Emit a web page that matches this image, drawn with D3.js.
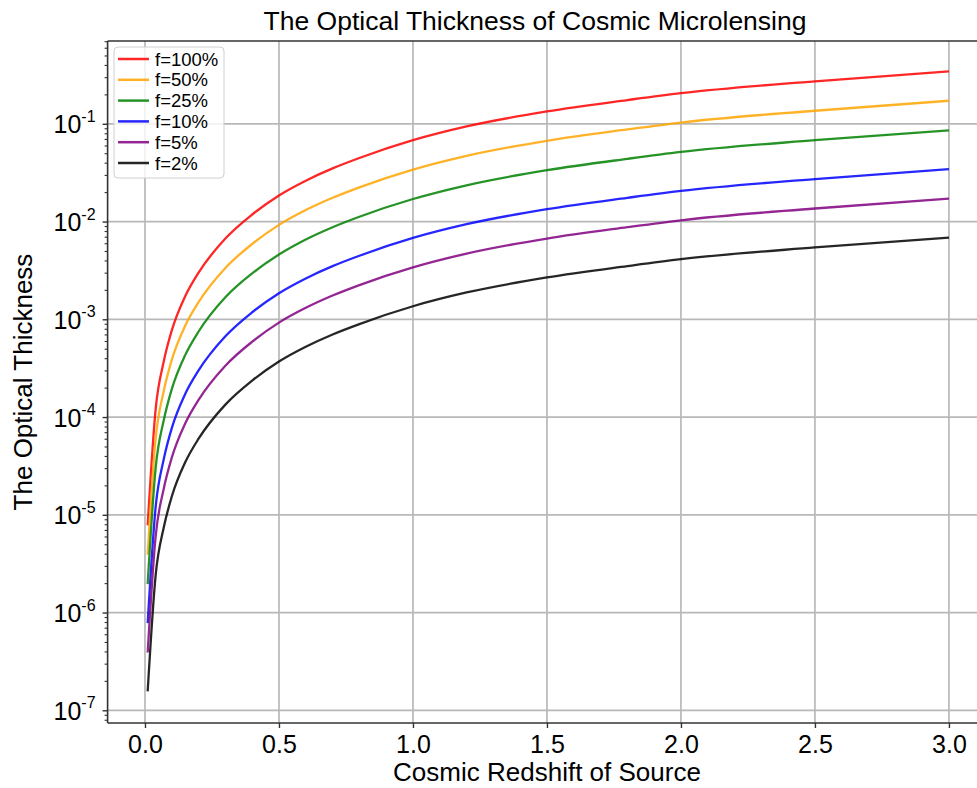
<!DOCTYPE html>
<html>
<head>
<meta charset="utf-8">
<script src="https://cdn.jsdelivr.net/npm/d3@7"></script>
<style>
  body { margin: 0; background: #fff; }
  svg { display: block; font-family: "Liberation Sans", Arial, sans-serif; }
</style>
</head>
<body>
<svg id="chart" width="977" height="788"></svg>
<script>
// redshift samples
const redshift = [0.01, 0.04, 0.07, 0.1, 0.15, 0.2, 0.3, 0.4, 0.5, 0.6, 0.7, 0.8, 1.0, 1.2, 1.5, 1.8, 2.0, 2.5, 3.0];

const tauF100 = [7.8e-6, 1.22e-4, 3.7e-4, 7.7e-4, 1.72e-3, 3.0e-3, 6.7e-3, 0.0118, 0.0185, 0.0262, 0.035, 0.0447, 0.068, 0.094, 0.134, 0.175, 0.206, 0.272, 0.343];
const tauF50 = [3.9e-6, 6.1e-5, 1.85e-4, 3.85e-4, 8.6e-4, 1.5e-3, 3.35e-3, 5.9e-3, 9.25e-3, 0.0131, 0.0175, 0.0224, 0.034, 0.047, 0.067, 0.0875, 0.103, 0.136, 0.172];
const tauF25 = [1.95e-6, 3.05e-5, 9.25e-5, 1.93e-4, 4.3e-4, 7.5e-4, 1.68e-3, 2.95e-3, 4.6e-3, 6.55e-3, 8.75e-3, 0.0112, 0.017, 0.0235, 0.0335, 0.0438, 0.0515, 0.068, 0.0858];
const tauF10 = [7.8e-7, 1.22e-5, 3.7e-5, 7.7e-5, 1.72e-4, 3.0e-4, 6.7e-4, 1.18e-3, 1.85e-3, 2.62e-3, 3.5e-3, 4.47e-3, 6.8e-3, 9.4e-3, 0.0134, 0.0175, 0.0206, 0.0272, 0.0343];
const tauF5 = [3.9e-7, 6.1e-6, 1.85e-5, 3.85e-5, 8.6e-5, 1.5e-4, 3.35e-4, 5.9e-4, 9.25e-4, 1.31e-3, 1.75e-3, 2.24e-3, 3.4e-3, 4.7e-3, 6.7e-3, 8.75e-3, 0.0103, 0.0136, 0.0172];
const tauF2 = [1.56e-7, 2.44e-6, 7.4e-6, 1.54e-5, 3.44e-5, 6.0e-5, 1.34e-4, 2.36e-4, 3.7e-4, 5.24e-4, 7.0e-4, 8.94e-4, 1.36e-3, 1.88e-3, 2.68e-3, 3.5e-3, 4.12e-3, 5.44e-3, 6.86e-3];

const seriesNames = ["f=100%", "f=50%", "f=25%", "f=10%", "f=5%", "f=2%"];
const seriesColors = ["#ff0000", "#ffa500", "#008000", "#0000ff", "#800080", "#000000"];
const seriesValues = [tauF100, tauF50, tauF25, tauF10, tauF5, tauF2];

const xTicks = [0, 0.5, 1.0, 1.5, 2.0, 2.5, 3.0];
const yExponents = [-7, -6, -5, -4, -3, -2, -1];

const svg = d3.select('#chart');

const plotLeft = 107.6, plotRight = 989, plotTop = 41, plotBottom = 723;

const x = d3.scaleLinear()
  .domain([-0.1395, 3.1495])
  .range([plotLeft, plotRight]);

const y = d3.scaleLog()
  .domain([Math.pow(10, -7.13), Math.pow(10, -0.153)])
  .range([plotBottom, plotTop]);

svg.append('rect')
  .attr('width', 977).attr('height', 788)
  .attr('fill', '#fff');

svg.append('clipPath').attr('id', 'plotclip')
  .append('rect')
  .attr('x', plotLeft).attr('y', plotTop)
  .attr('width', plotRight - plotLeft).attr('height', plotBottom - plotTop);

// grid
const grid = svg.append('g').attr('clip-path', 'url(#plotclip)');

grid.selectAll('.gx')
  .data(xTicks)
  .enter().append('line')
  .attr('x1', d => x(d)).attr('x2', d => x(d))
  .attr('y1', plotTop).attr('y2', plotBottom)
  .attr('stroke', '#b8b8b8').attr('stroke-width', 1.7);

grid.selectAll('.gy')
  .data(yExponents)
  .enter().append('line')
  .attr('x1', plotLeft).attr('x2', plotRight)
  .attr('y1', d => y(Math.pow(10, d))).attr('y2', d => y(Math.pow(10, d)))
  .attr('stroke', '#b8b8b8').attr('stroke-width', 1.7);

// curves
const line = d3.line()
  .x(d => x(d[0]))
  .y(d => y(d[1]))
  .curve(d3.curveMonotoneX);

const lines = svg.append('g').attr('clip-path', 'url(#plotclip)');

seriesValues.map((vals, i) => {
  lines.append('path')
    .datum(redshift.map((z, j) => [z, vals[j]]))
    .attr('d', line)
    .attr('fill', 'none')
    .attr('stroke', seriesColors[i])
    .attr('stroke-opacity', 0.85)
    .attr('stroke-width', 2.3);
});

// axes
const xAxis = svg.append('g')
  .attr('transform', `translate(0,${plotBottom})`)
  .call(d3.axisBottom(x).tickValues(xTicks).tickFormat(d3.format('.1f')).tickSize(5).tickPadding(7));

xAxis.select('.domain').remove();
xAxis.selectAll('line').attr('stroke', '#333').attr('stroke-width', 1.4);
xAxis.selectAll('text')
  .attr('font-size', 25)
  .attr('fill', '#000')
  .style('font-family', '"Liberation Sans", Arial, sans-serif');

let minorTicks = [];
yExponents.concat([-8]).map(e => {
  for (let k = 2; k <= 9; k++) {
    let v = k * Math.pow(10, e);
    if (v > y.domain()[0] && v < y.domain()[1]) minorTicks.push(v);
  }
});

const yMinor = svg.append('g')
  .attr('transform', `translate(${plotLeft},0)`)
  .call(d3.axisLeft(y).tickValues(minorTicks).tickFormat('').tickSize(3));
yMinor.select('.domain').remove();
yMinor.selectAll('line').attr('stroke', '#333').attr('stroke-width', 1.1);

const yAxis = svg.append('g')
  .attr('transform', `translate(${plotLeft},0)`)
  .call(d3.axisLeft(y).tickValues(yExponents.map(e => Math.pow(10, e))).tickFormat('').tickSize(5));
yAxis.select('.domain').remove();
yAxis.selectAll('line').attr('stroke', '#333').attr('stroke-width', 1.4);

yAxis.selectAll('.tick').each(function(d) {
  const t = d3.select(this).append('text')
    .attr('x', -12)
    .attr('dy', '0.36em')
    .attr('text-anchor', 'end')
    .attr('fill', '#000')
    .attr('font-size', 25);
  t.append('tspan').text('10');
  t.append('tspan')
    .attr('font-size', 16)
    .attr('dy', '-0.72em')
    .text('-' + Math.round(-Math.log10(d)));
});

// spines
const spine = svg.append('g')
  .attr('stroke', '#333').attr('stroke-width', 1.6).attr('fill', 'none');
spine.append('line').attr('x1', plotLeft).attr('x2', plotLeft).attr('y1', plotTop).attr('y2', plotBottom);
spine.append('line').attr('x1', plotLeft).attr('x2', plotRight).attr('y1', plotBottom).attr('y2', plotBottom);
spine.append('line').attr('x1', plotLeft).attr('x2', plotRight).attr('y1', plotTop).attr('y2', plotTop);

// legend
const legend = svg.append('g').attr('transform', 'translate(114,47)');

legend.append('rect')
  .attr('width', 110).attr('height', 131)
  .attr('rx', 4)
  .attr('fill', '#fff').attr('fill-opacity', 0.8)
  .attr('stroke', '#d0d0d0').attr('stroke-width', 1);

seriesNames.map((name, i) => {
  const ly = 12 + i * 20.8;
  legend.append('line')
    .attr('x1', 4).attr('x2', 35)
    .attr('y1', ly).attr('y2', ly)
    .attr('stroke', seriesColors[i])
    .attr('stroke-opacity', 0.85)
    .attr('stroke-width', 2.5);
  legend.append('text')
    .attr('x', 41).attr('y', ly)
    .attr('dy', '0.36em')
    .attr('font-size', 18.5)
    .attr('fill', '#000')
    .text(name);
});

// titles
svg.append('text')
  .attr('x', 535).attr('y', 30)
  .attr('text-anchor', 'middle')
  .attr('font-size', 26.5)
  .attr('fill', '#000')
  .text('The Optical Thickness of Cosmic Microlensing');

svg.append('text')
  .attr('x', 547).attr('y', 781)
  .attr('text-anchor', 'middle')
  .attr('font-size', 26)
  .attr('fill', '#000')
  .text('Cosmic Redshift of Source');

svg.append('text')
  .attr('transform', `translate(32,${(plotTop + plotBottom) / 2}) rotate(-90)`)
  .attr('text-anchor', 'middle')
  .attr('font-size', 26)
  .attr('fill', '#000')
  .text('The Optical Thickness');
</script>
</body>
</html>
